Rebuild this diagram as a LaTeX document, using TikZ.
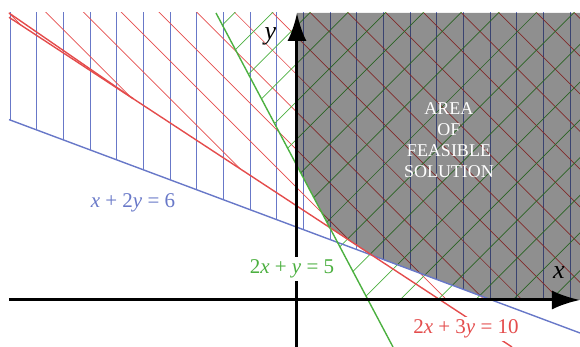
\documentclass[tikz,border=0pt]{standalone}
\usepackage{fontspec}
\setmainfont{Liberation Serif}
\usetikzlibrary{arrows.meta,calc}
\definecolor{lpblue}{RGB}{104,120,200}
\definecolor{lpred}{RGB}{228,76,76}
\definecolor{lpgreen}{RGB}{76,176,64}

\begin{document}
\begin{tikzpicture}[x=5pt,y=5pt,
  hatch/.style={line width=0.35pt},
  bound/.style={line width=0.7pt},
  axis/.style={line width=1.5pt,-{Latex[length=14pt,width=9.5pt]}},
  eqlabel/.style={fill=white,inner sep=1.5pt,font=\fontsize{10.5}{12}\selectfont}]
  \useasboundingbox (-29.7,-4.7) rectangle (28.3,30.0);
  % end points of the three lines
  \coordinate (b1) at (-28.8,18.04);
  \coordinate (b2) at (28.3,-3.3);
  \coordinate (r1) at (-28.8,28.27);
  \coordinate (r2) at (21.5,-4.7);
  \coordinate (g1) at (-8.1,28.7);
  \coordinate (g2) at (9.6,-4.7);
  % corners of the feasible area
  \coordinate (fa) at (0,13.42);
  \coordinate (fb) at (3.284,7.219);
  \coordinate (fc) at (7.432,4.498);
  \coordinate (fd) at (19.47,0);
  % hatching of the three half planes
  \begin{scope}
    \clip (-28.8,0) rectangle (28.3,28.7);
    \begin{scope}
      \clip (b1) -- (b2) -- (28.3,29) -- (-28.8,29) -- cycle;
      \foreach \k in {0,...,21}
        \draw[lpblue,hatch] (-28.7+2.6667*\k,-1) -- ++(0,30);
    \end{scope}
    \begin{scope}
      \clip (r1) -- (r2) -- (28.3,-4.7) -- (28.3,29) -- (-28.8,29) -- cycle;
      \foreach \k in {-8,...,14}
        \draw[lpred,hatch] (3.67+3.771*\k-29,29) -- ++(30,-30);
    \end{scope}
    \begin{scope}
      \clip (g1) -- (g2) -- (28.3,-4.7) -- (28.3,29) -- (-8.1,29) -- cycle;
      \foreach \k in {-13,...,9}
        \draw[lpgreen,hatch] (-8.57+3.771*\k-1,-1) -- ++(30,30);
    \end{scope}
  \end{scope}
  % feasible area
  \fill[black,opacity=0.44] (0,28.7) -- (fa) -- (fb) -- (fc) -- (fd) -- (28.3,0) -- (28.3,28.7) -- cycle;
  % the three lines
  \draw[lpblue,bound] (b1) -- (b2);
  \draw[lpred,bound] (r1) -- (r2);
  \draw[lpred,bound] (-28.8,28.7) -- ($(r1)!0.247!(r2)$);
  \draw[lpgreen,bound] (g1) -- (g2);
  % axes
  \draw[axis] (-28.8,0) -- (28.3,0);
  \draw[axis] (0,-4.7) -- (0,28.7);
  \node[font=\fontsize{13}{15}\selectfont\itshape] (xlab) at (26.2,2.75) {x};
  \node[font=\fontsize{13}{15}\selectfont\itshape] (ylab) at (-2.65,26.4) {y};
  % labels
  \node[text=white,align=center,font=\fontsize{9}{10.5}\selectfont] (area) at (15.2,16.0) {AREA\\OF\\FEASIBLE\\SOLUTION};
  \node[eqlabel,text=lpblue] (blueeq) at (-16.4,9.7) {\textit{x} + 2\textit{y} = 6};
  \node[eqlabel,text=lpgreen] (greeneq) at (-0.5,3.1) {2\textit{x} + \textit{y} = 5};
  \node[eqlabel,text=lpred] (redeq) at (16.9,-2.9) {2\textit{x} + 3\textit{y} = 10};
\end{tikzpicture}
\end{document}
